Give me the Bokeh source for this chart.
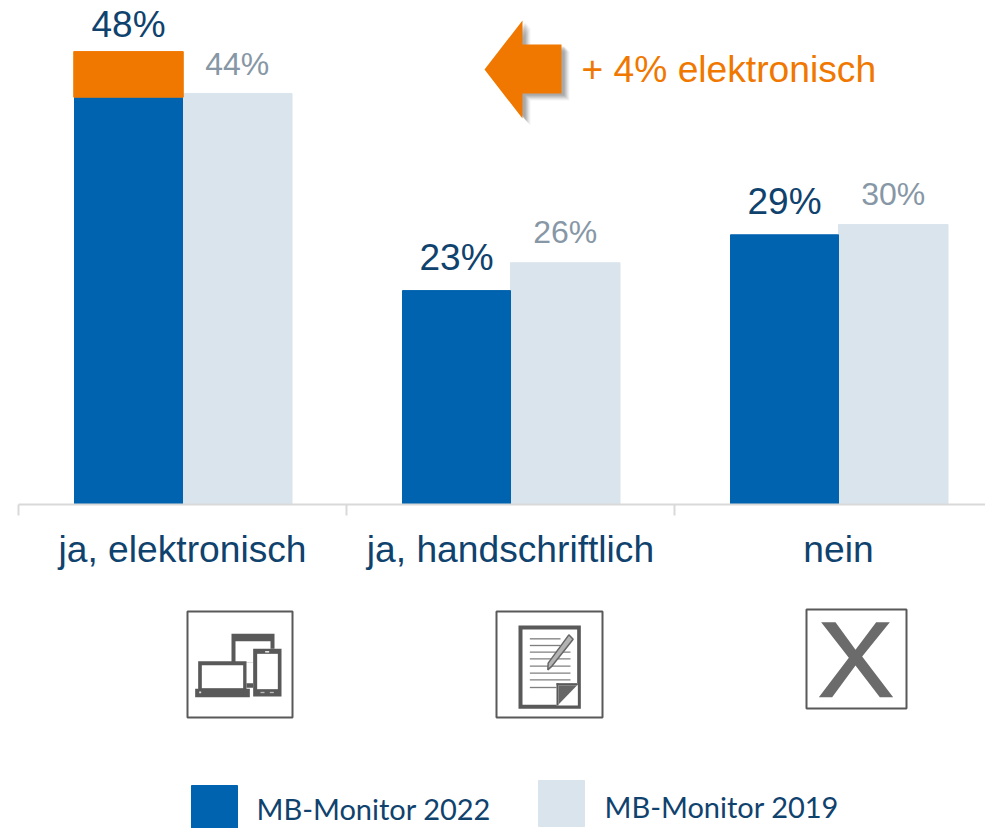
from bokeh.plotting import figure
from bokeh.embed import file_html
from bokeh.resources import INLINE
from bokeh.models import ColumnDataSource, Range1d, LinearAxis, FixedTicker
from bokeh.core.properties import value

categories = ["ja, elektronisch", "ja, handschriftlich", "nein"]
solid_2022 = [43.8, 23.0, 29.0]
extra_2022 = [4.9]
values_2019 = [44.2, 26.0, 30.1]
labels_2022 = ["48%", "23%", "29%"]
labels_2019 = ["44%", "26%", "30%"]
legend_names = ["MB-Monitor 2022", "MB-Monitor 2019"]
note_text = "+ 4% elektronisch"

BLUE, LIGHT, ORANGE = "#0063AF", "#DAE4ED", "#F07800"
NAVY, GREY, ICON = "#10426E", "#8797A6", "#595959"
W, H = 985, 828

# pixel helpers: reference-page pixels map to the extra "px" ranges
p = figure(width=W, height=H, output_backend="svg", toolbar_location=None,
           x_axis_type=None, y_axis_type=None, min_border=0,
           x_range=Range1d((0 - 182) / 328, (W - 182) / 328),
           y_range=Range1d(-(H - 504) / 9.3, 504 / 9.3))
p.outline_line_color = None
p.background_fill_color = "white"
p.border_fill_color = "white"
p.grid.visible = False
p.extra_x_ranges["px"] = Range1d(0, W)
p.extra_y_ranges["px"] = Range1d(H, 0)
PX = dict(x_range_name="px", y_range_name="px")

# bars
idx = list(range(len(categories)))
bw22 = 108 / 328
bw19 = 109.5 / 328
tops22 = [s + e for s, e in zip(solid_2022, extra_2022 + [0, 0])]
src = ColumnDataSource(dict(
    x22=[i - bw22 / 2 for i in idx], x19=[i + bw19 / 2 for i in idx],
    v22=solid_2022, v19=values_2019))
p.vbar(x="x19", top="v19", bottom=0, width=bw19, color=LIGHT, source=src)
p.vbar(x="x22", top="v22", bottom=0, width=bw22, color=BLUE, source=src)
p.vbar(x=[src.data["x22"][0]], bottom=[solid_2022[0]],
       top=[solid_2022[0] + extra_2022[0]], width=bw22 + 1.5 / 328, color=ORANGE)

# value labels
for i, off22, off19 in zip(idx, [-27, -33, -33], [-29, -31, -31]):
    p.text(x=[src.data["x22"][i]], y=[tops22[i]], text=[labels_2022[i]], text_align="center",
           text_baseline="alphabetic", y_offset=off22,
           text_font=value("Liberation Sans"), text_font_size="37px", text_color=NAVY)
    p.text(x=[src.data["x19"][i]], y=[values_2019[i]], text=[labels_2019[i]], text_align="center",
           text_baseline="alphabetic", y_offset=off19,
           text_font=value("Liberation Sans"), text_font_size="32px", text_color=GREY)

# category axis inside the frame
ax = LinearAxis(fixed_location=0)
ax.ticker = FixedTicker(ticks=idx, minor_ticks=[-0.5, 0.5, 1.5, 2.5])
ax.major_label_overrides = {i: c for i, c in zip(idx, categories)}
ax.bounds = (-0.5, 2.46)
ax.axis_line_color = "#D9D9D9"
ax.axis_line_width = 2
ax.major_tick_line_color = None
ax.major_tick_out = 0
ax.major_tick_in = 0
ax.minor_tick_line_color = "#D9D9D9"
ax.minor_tick_line_width = 2
ax.minor_tick_out = 11
ax.minor_tick_in = 0
ax.major_label_standoff = 12
ax.major_label_text_font = "Liberation Sans"
ax.major_label_text_font_size = "37.2px"
ax.major_label_text_color = NAVY
ax.major_label_orientation = "horizontal"
p.add_layout(ax, "below")

# arrow with soft shadow
ax_pts = [484, 522, 522, 561, 561, 522, 522]
ay_pts = [69, 20, 44, 44, 93, 93, 118]
for d, a in [(8, .05), (7, .07), (6, .09), (5, .10), (4, .12), (3, .12)]:
    p.patch([x + d for x in ax_pts], [y + d - 1 for y in ay_pts],
            color="#404040", alpha=a, line_width=0, **PX)
p.patch(ax_pts, ay_pts, color=ORANGE, line_width=0, **PX)
p.text(x=[581], y=[68], text=[note_text], text_font=value("Liberation Sans"),
       text_font_size="37.2px", text_color=ORANGE, text_baseline="alphabetic", **PX)

# legend
p.quad(left=[191], right=[237], top=[785], bottom=[828], color=BLUE, **PX)
p.quad(left=[538], right=[584], top=[780], bottom=[826], color=LIGHT, **PX)
p.text(x=[256], y=[808], text=[legend_names[0]], text_font=value("Lato"),
       text_font_size="29px", text_color=NAVY, text_baseline="alphabetic", **PX)
p.text(x=[604], y=[806], text=[legend_names[1]], text_font=value("Lato"),
       text_font_size="29px", text_color=NAVY, text_baseline="alphabetic", **PX)


# icon helpers: rect in zoomed units
def box(x0, y0, x1, y1):
    p.quad(left=[x0], right=[x1], top=[y0], bottom=[y1], fill_color="white",
           line_color=ICON, line_width=2, **PX)


def zrect(ox, oy, zx0, zy0, zx1, zy1, color=ICON):
    p.quad(left=[ox + zx0 / 3], right=[ox + zx1 / 3], top=[oy + zy0 / 3],
           bottom=[oy + zy1 / 3], color=color, line_width=0, **PX)


def zpoly(ox, oy, pts, color, **kw):
    kw.setdefault("line_width", 0)
    p.patch([ox + a / 3 for a, _ in pts], [oy + b / 3 for _, b in pts], color=color, **kw, **PX)


box(187, 611, 292, 717)
box(496, 611, 602, 717)
box(806, 609, 906, 708)

# devices icon
O = (170, 590)
zrect(*O, 183, 130, 312, 215)
zrect(*O, 195, 152, 300, 215, "white")
zrect(*O, 228, 278, 250, 292)
zrect(*O, 248, 175, 333, 318, "white")
zrect(*O, 248, 175, 333, 318)
zrect(*O, 260, 190, 322, 296, "white")
zrect(*O, 284, 182, 296, 186, "white")
zrect(*O, 270, 304, 282, 308, "#BBBBBB")
zrect(*O, 298, 304, 310, 308, "#BBBBBB")
zrect(*O, 83, 212, 228, 296)
zrect(*O, 94, 224, 218, 293, "white")
zrect(*O, 74, 295, 238, 320)
zrect(*O, 86, 303, 92, 308, "#DDDDDD")

# note icon
zrect(*O, 1044, 105, 1231, 355)
zrect(*O, 1056, 117, 1220, 343, "white")
for zy, zx1 in [(145, 1170), (165, 1170), (185, 1200), (205, 1200), (227, 1200),
                (248, 1200), (268, 1200), (291, 1160)]:
    zrect(*O, 1078, zy - 2, zx1, zy + 2, "#808080")
zpoly(*O, [(1195, 133), (1208, 146), (1145, 226), (1132, 238), (1133, 218)], "#B3B3B3",
      line_color="#666666", line_width=1.5)
zrect(*O, 1158, 278, 1222, 345, "white")
zrect(*O, 1158, 278, 1164, 345)
zrect(*O, 1158, 278, 1222, 284)
zpoly(*O, [(1164, 284), (1220, 284), (1164, 342)], "#666666")

# X icon
zpoly(780, 590, [(122, 95), (165, 95), (225, 178), (287, 95), (328, 95), (245, 198),
                 (338, 320), (298, 320), (225, 225), (155, 320), (115, 320), (205, 202)],
      "#6B6B6B")

open("out.html", "w").write(file_html(p, INLINE))
